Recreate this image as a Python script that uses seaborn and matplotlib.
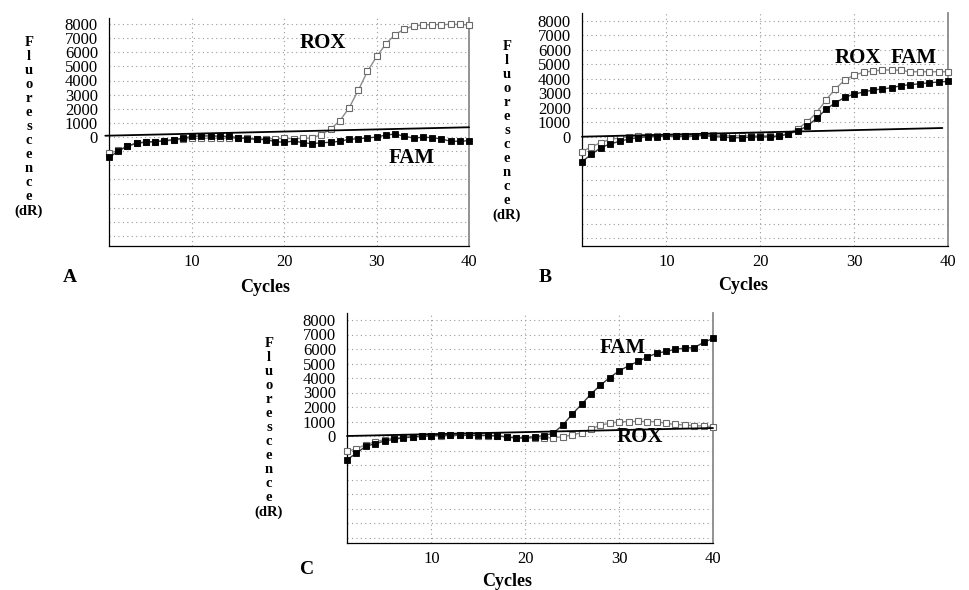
import numpy as np
import pandas as pd
import matplotlib
matplotlib.use("Agg")
import matplotlib.pyplot as plt
from matplotlib.ticker import MultipleLocator, FuncFormatter
import seaborn as sns

# data (dR per cycle)
cycles = list(range(1, 41))

rox_a = [-1150, -950, -650, -450, -370, -330, -280, -220, -150, -90,
         -90, -90, -90, -80, -90, -100, -120, -130, -110, -100,
         -110, -100, -70, 170, 550, 1150, 2050, 3300, 4650, 5700,
         6600, 7250, 7650, 7850, 7950, 7950, 7960, 7970, 7970, 7940]
fam_a = [-1450, -1000, -640, -430, -350, -330, -260, -190, -80, 40,
         80, 70, 60, 40, -50, -110, -170, -190, -320, -380,
         -280, -400, -480, -400, -380, -300, -170, -120, -70, 0,
         140, 210, 50, -70, -20, -40, -140, -300, -300, -260]

rox_b = [-1030, -690, -410, -180, -90, -20, 20, 40, 50, 50,
         50, 60, 70, 120, 90, 70, 60, 60, 60, 60,
         70, 80, 220, 550, 1030, 1650, 2530, 3310, 3900, 4250,
         4440, 4530, 4600, 4600, 4570, 4480, 4480, 4480, 4480, 4480]
fam_b = [-1720, -1220, -760, -500, -320, -160, -70, 0, 0, 50,
         30, 30, 50, 90, 0, -20, -70, -70, -30, 0,
         -20, 20, 200, 390, 740, 1260, 1890, 2340, 2710, 2940,
         3080, 3220, 3290, 3380, 3520, 3590, 3650, 3720, 3770, 3820]

rox_c = [-1060, -870, -600, -410, -250, -140, -80, -40, -20, 0,
         20, 40, 40, 40, 30, 10, 0, -50, -120, -160,
         -140, -140, -115, -50, 70, 230, 480, 760, 870, 990,
         990, 1010, 990, 990, 870, 800, 760, 710, 690, 640]
fam_c = [-1640, -1180, -710, -530, -350, -230, -120, -70, -20, 20,
         50, 70, 60, 40, 70, 40, 20, -70, -140, -120,
         -40, 20, 210, 760, 1500, 2190, 2900, 3500, 4030, 4490,
         4840, 5140, 5440, 5710, 5830, 5990, 6060, 6100, 6450, 6730]

# threshold lines (start/end cycle, start/end dR)
thr_a_x, thr_a_y = [0.6, 40], [90, 690]
thr_b_x, thr_b_y = [1, 39.4], [0, 600]
thr_c_x, thr_c_y = [1, 40], [0, 550]

panels = [
    ("A", rox_a, fam_a, thr_a_x, thr_a_y),
    ("B", rox_b, fam_b, thr_b_x, thr_b_y),
    ("C", rox_c, fam_c, thr_c_x, thr_c_y),
]

sns.set_style("white")
plt.rcParams["font.family"] = ["Liberation Serif", "DejaVu Serif"]
plt.rcParams["text.color"] = "black"
plt.rcParams["xtick.color"] = "black"
plt.rcParams["ytick.color"] = "black"

W, H = 969, 590
fig = plt.figure(figsize=(W / 100, H / 100), dpi=100)

# pixel layout: left, right, y of 8000, y of 0, top, bottom
layout = {
    "A": (109, 469, 24, 137, 18, 246),
    "B": (582, 948, 20.7, 136.7, 13, 246),
    "C": (347, 713, 320, 436, 313, 543),
}


def draw_panel(name, rox, fam, tx, ty):
    left, right, y8, y0, top, bottom = layout[name]
    ax = fig.add_axes([left / W, 1 - bottom / H, (right - left) / W, (bottom - top) / H])
    ppu = (y0 - y8) / 8000

    df = pd.DataFrame({"cycle": cycles, "ROX": rox, "FAM": fam})
    sns.lineplot(data=df, x="cycle", y="ROX", ax=ax, color="#8c8c8c", lw=1,
                 marker="s", ms=4, markerfacecolor="white",
                 markeredgecolor="#6a6a6a", markeredgewidth=0.8, zorder=3)
    sns.lineplot(data=df, x="cycle", y="FAM", ax=ax, color="#3a3a3a", lw=1,
                 marker="s", ms=4, markerfacecolor="black",
                 markeredgecolor="black", markeredgewidth=0.6, zorder=4)
    sns.lineplot(x=tx, y=ty, ax=ax, color="black", lw=1.3, zorder=5)
    for ln in ax.lines:
        ln.set_clip_on(False)

    ax.set_xlim(1, 40)
    ax.set_ylim((y0 - bottom) / ppu, (y0 - top) / ppu)
    ax.xaxis.set_major_locator(MultipleLocator(10))
    ax.xaxis.set_minor_locator(MultipleLocator(1))
    ax.yaxis.set_major_locator(MultipleLocator(1000))
    ax.yaxis.set_minor_locator(MultipleLocator(500))
    ax.yaxis.set_major_formatter(FuncFormatter(lambda v, p: f"{v:.0f}" if v >= 0 else ""))
    ax.tick_params(axis="both", which="both", direction="in", labelsize=12)
    ax.tick_params(axis="both", which="major", length=4, width=0.8)
    ax.tick_params(axis="both", which="minor", length=3, width=0.6)
    ax.tick_params(axis="y", pad=8)
    ax.tick_params(axis="x", pad=6)
    ax.grid(True, which="major", linestyle=(0, (1, 3)), color="#9a9a9a", lw=0.8)
    ax.set_xlabel("")
    ax.set_ylabel("")

    ax.spines["top"].set_visible(False)
    ax.spines["right"].set_color("#8a8a8a")
    ax.spines["right"].set_linewidth(1.3)
    ax.spines["left"].set_color("black")
    ax.spines["bottom"].set_color("black")
    ax.spines["left"].set_linewidth(0.9)
    ax.spines["bottom"].set_linewidth(0.9)
    return ax


axes = {}
for name, rox, fam, tx, ty in panels:
    axes[name] = draw_panel(name, rox, fam, tx, ty)

lab = dict(fontsize=15, fontweight="bold", ha="center", va="center")
axes["A"].text(24.2, 6670, "ROX", **lab)
axes["A"].text(33.8, -1490, "FAM", **lab)
axes["B"].text(30.4, 5430, "ROX", **lab)
axes["B"].text(36.3, 5430, "FAM", **lab)
axes["C"].text(30.4, 6070, "FAM", **lab)
axes["C"].text(32.2, -70, "ROX", **lab)

ylab = "\n".join("Fluorescence") + "\n(dR)"
for name, (x, y) in {"A": (29, 127), "B": (507, 131), "C": (269, 428)}.items():
    fig.text(x / W, 1 - y / H, ylab, fontsize=10.5, fontweight="bold",
             ha="center", va="center", linespacing=1.1)

for name, (x, y) in {"A": (70, 278), "B": (545, 278), "C": (307, 569)}.items():
    fig.text(x / W, 1 - y / H, name, fontsize=14, fontweight="bold", ha="center", va="center")

for x, y in [(265, 287), (743, 286), (507, 582)]:
    fig.text(x / W, 1 - y / H, "Cycles", fontsize=13, fontweight="bold", ha="center", va="center")

fig.savefig("out.png", dpi=100)
